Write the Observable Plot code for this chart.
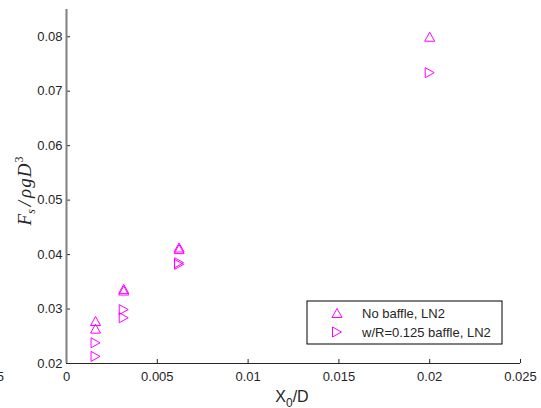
<!DOCTYPE html>
<html>
<head>
<meta charset="utf-8">
<script src="https://cdn.jsdelivr.net/npm/d3@7"></script>
<script src="https://cdn.jsdelivr.net/npm/@observablehq/plot@0.6"></script>
<style>
  html, body { margin: 0; padding: 0; background: #fff; }
  #chart { position: relative; width: 541px; height: 408px; overflow: hidden; }
</style>
</head>
<body>
<div id="chart"></div>
<script>
// ---- data ----
const noBaffleX = [0.0016, 0.0016, 0.00315, 0.00315, 0.0062, 0.0062, 0.02];
const noBaffleY = [0.0278, 0.0264, 0.0337, 0.0334, 0.0413, 0.0410, 0.0800];
const baffleX   = [0.0016, 0.0016, 0.00315, 0.00315, 0.0062, 0.0062, 0.02];
const baffleY   = [0.0238, 0.0213, 0.0299, 0.0284, 0.0385, 0.0382, 0.0734];

const seriesNames = ["No baffle, LN2", "w/R=0.125 baffle, LN2"];
const xTicks = [0, 0.005, 0.01, 0.015, 0.02, 0.025];
const xTickLabels = ["0", "0.005", "0.01", "0.015", "0.02", "0.025"];
const yTicks = [0.02, 0.03, 0.04, 0.05, 0.06, 0.07, 0.08];
const yTickLabels = ["0.02", "0.03", "0.04", "0.05", "0.06", "0.07", "0.08"];
const xDomain = [0, 0.025];
const yDomain = [0.02, 0.085];

const magenta = "#ff00ff";
const ink = "#262626";

// custom marker shapes (bounding-box centred, like MATLAB markers)
const triUp = {
  draw(ctx, size) {
    const r = Math.sqrt(size / Math.PI);
    ctx.moveTo(0, -0.9 * r);
    ctx.lineTo(r, 0.9 * r);
    ctx.lineTo(-r, 0.9 * r);
    ctx.closePath();
  }
};
const triRight = {
  draw(ctx, size) {
    const r = Math.sqrt(size / Math.PI);
    ctx.moveTo(-0.9 * r, -r);
    ctx.lineTo(0.9 * r, 0);
    ctx.lineTo(-0.9 * r, r);
    ctx.closePath();
  }
};

const dataA = noBaffleX.map((x, i) => ({x, y: noBaffleY[i]}));
const dataB = baffleX.map((x, i) => ({x, y: baffleY[i]}));

const plot = Plot.plot({
  width: 541,
  height: 408,
  marginLeft: 66,
  marginRight: 21,
  marginTop: 9,
  marginBottom: 45,
  style: {fontFamily: "'Liberation Sans', Arial, sans-serif", fontSize: "13px", color: ink, background: "#fff"},
  x: {domain: xDomain},
  y: {domain: yDomain},
  marks: [
    // tick labels
    Plot.axisX({ticks: xTicks, tickFormat: (d, i) => xTickLabels[i], tickSize: 0, tickPadding: 8, fontSize: 13, label: null, fill: ink}),
    Plot.axisY({ticks: yTicks, tickFormat: (d, i) => yTickLabels[i], tickSize: 0, tickPadding: 4, fontSize: 13, label: null, fill: ink}),
    // inward ticks
    Plot.axisX({ticks: xTicks, tickSize: 4, dy: -4, text: null, label: null, stroke: ink}),
    Plot.axisY({ticks: yTicks, tickSize: 4, dx: 4, text: null, label: null, stroke: ink}),
    // axis lines
    Plot.ruleX([xDomain[0]], {stroke: "#808080", strokeWidth: 2}),
    Plot.ruleY([yDomain[0]], {stroke: ink, strokeWidth: 1}),
    // data
    Plot.dot(dataA, {x: "x", y: "y", symbol: triUp, r: 5, stroke: magenta, strokeWidth: 1, fill: "none"}),
    Plot.dot(dataB, {x: "x", y: "y", symbol: triRight, r: 5, stroke: magenta, strokeWidth: 1, fill: "none"})
  ]
});

document.getElementById("chart").appendChild(plot);

// ---- annotations: axis titles, legend ----
const svg = d3.select(plot);

// x-axis title X_0/D
const xt = svg.append("text")
  .attr("x", 292).attr("y", 402)
  .attr("text-anchor", "middle")
  .attr("fill", ink)
  .style("font-family", "'Liberation Sans', Arial, sans-serif")
  .style("font-size", "16px");
xt.append("tspan").text("X");
xt.append("tspan").attr("dy", 5).style("font-size", "12px").text("0");
xt.append("tspan").attr("dy", -5).text("/D");

// y-axis title F_s / ρ g D^3 (italic serif)
const yt = svg.append("text")
  .attr("transform", "translate(31,191) rotate(-90)")
  .attr("text-anchor", "middle")
  .attr("fill", ink)
  .style("font-family", "'Liberation Serif', 'DejaVu Serif', serif")
  .style("font-style", "italic")
  .style("font-size", "19px");
yt.append("tspan").text("F");
yt.append("tspan").attr("dy", 4).style("font-size", "12px").text("s");
yt.append("tspan").attr("dy", -4).attr("dx", 3).text("/");
yt.append("tspan").attr("dx", 3).text("ρ");
yt.append("tspan").attr("dx", 1).text("g");
yt.append("tspan").attr("dx", 1).text("D");
yt.append("tspan").attr("dy", -8).attr("dx", 1).style("font-size", "12px").style("font-style", "normal").text("3");

// clipped stray label at left edge
svg.append("text")
  .attr("x", 4).attr("y", 381)
  .attr("text-anchor", "end")
  .attr("fill", ink)
  .style("font-size", "13px")
  .text("5");

// legend
const lg = svg.append("g");
lg.append("rect")
  .attr("x", 307).attr("y", 301).attr("width", 195).attr("height", 43)
  .attr("fill", "#fff").attr("stroke", "#000").attr("stroke-width", 1);
const legendShapes = [triUp, triRight];
const legendRows = [313, 332];
seriesNames.forEach((name, i) => {
  lg.append("path")
    .attr("d", d3.symbol(legendShapes[i], Math.PI * 25)())
    .attr("transform", `translate(337,${legendRows[i]})`)
    .attr("fill", "none").attr("stroke", magenta).attr("stroke-width", 1);
  lg.append("text")
    .attr("x", 362).attr("y", legendRows[i] + 4.5)
    .attr("text-anchor", "start")
    .attr("fill", ink)
    .style("font-size", "13px")
    .text(name);
});
</script>
</body>
</html>
